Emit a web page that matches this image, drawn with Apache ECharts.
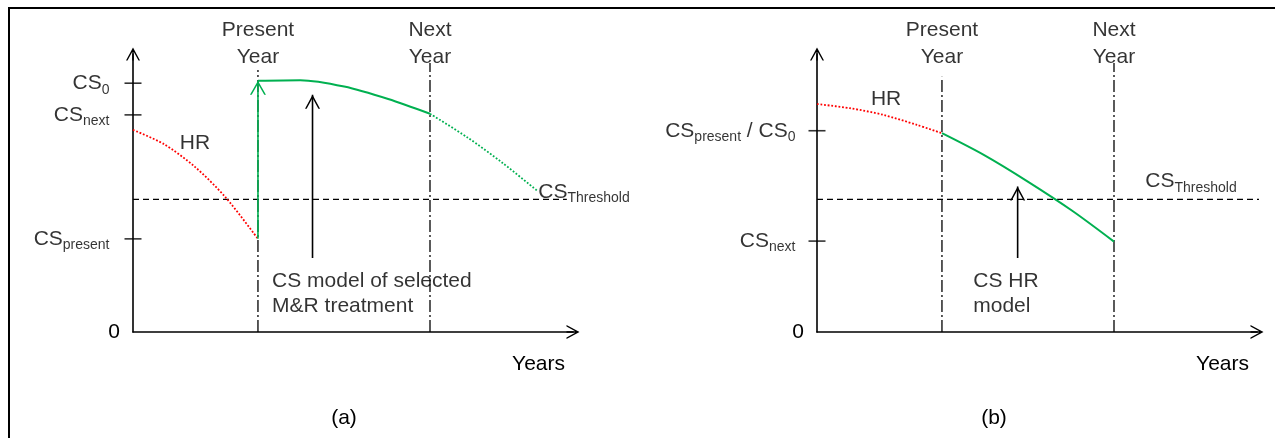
<!DOCTYPE html>
<html><head><meta charset="utf-8">
<script src="https://cdn.jsdelivr.net/npm/echarts@6/dist/echarts.min.js"></script>
<style>html,body{margin:0;padding:0;background:#fff}#c{width:1275px;height:438px}</style>
</head><body><div id="c"></div><script>
// Conceptual diagram: x = time (arbitrary units 0-100), y = condition score CS (arbitrary units 0-100)
const markerYears = [28.4, 67.5];              // Present Year, Next Year
const markerNames = ['Present\nYear', 'Next\nYear'];
const markerTopA = [94.2, 96.8];
const markerTopB = [91.8, 96.8];
const csThreshold = 47.7;
const thresholdEnd = [98.6, 102.5];

const tickValsA = [89.5, 78.1, 33.5];
const tickLabelsA = ['{m|CS}{s|0}', '{m|CS}{s|next}', '{m|CS}{s|present}'];
const tickValsB = [72.4, 32.7];
const tickLabelsB = ['{m|CS}{s|present}{m| / CS}{s|0}', '{m|CS}{s|next}'];

// Panel (a)
const hrAx = [0, 7, 14, 21, 28.4];
const hrAy = [72.7, 67.6, 59.5, 48.5, 33.5];
const jumpAy = [33.5, 90.4];
const treatAx = [28.4, 38, 48, 58, 67.5];
const treatAy = [90.4, 90.6, 88.3, 83.8, 78.5];
const forecastAx = [67.5, 76, 84, 92.1];
const forecastAy = [78.5, 70.0, 60.8, 50.5];
const pointerAx = 40.8;
const pointerAy = [26.6, 85.3];

// Panel (b)
const hrBx = [0, 7.5, 15.1, 22.7, 28.4];
const hrBy = [82.0, 80.5, 78.1, 74.5, 71.5];
const modelBx = [28.4, 38, 48, 58, 67.5];
const modelBy = [71.5, 63.6, 54.0, 43.6, 32.5];
const pointerBx = 45.6;
const pointerBy = [26.6, 52.3];

// Annotation texts and their anchors (data units)
const annotTextA = ['HR', 'CS model of selected\nM&R treatment', '{m|CS}{s|Threshold}'];
const annotAnchorA = [[14.1, 68.0], [31.5, 13.6], [92.0, 50.4]];
const annotTextB = ['HR', 'CS HR\nmodel', '{m|CS}{s|Threshold}'];
const annotAnchorB = [[15.7, 83.7], [35.4, 13.6], [74.5, 54.1]];
const headerY = 103.7;

const FONT = '"Liberation Sans", Arial, sans-serif';
const BLACK = '#000';
const GREEN = '#00B050';
const RED = '#FF0000';
const CHEV = 'path://M7,0L14,13L12.5,13L7,2.9L1.5,13L0,13Z';
const AXARROW = 'path://M7,0L14,13L12.5,13L7,2.9L1.5,13L0,13Z M6.3,1L7.7,1L7.7,13L6.3,13Z';
const rich = {
  m: { fontSize: 21, lineHeight: 24, color: BLACK, fontFamily: FONT },
  s: { fontSize: 14, lineHeight: 14, padding: [13, 0, 0, 0], color: BLACK, fontFamily: FONT }
};
const zip = (xs, ys) => xs.map((x, i) => [x, ys[i]]);

function line(gi, data, color, type, width, extra) {
  return Object.assign({
    type: 'line', xAxisIndex: gi, yAxisIndex: gi, data, symbol: 'none', silent: true,
    animation: false, lineStyle: { color, type, width }, z: 3
  }, extra || {});
}
const SMOOTH = { smooth: 0.3 };
function arrow(gi, pts, color, size) {
  return {
    type: 'line', xAxisIndex: gi, yAxisIndex: gi, silent: true, animation: false, z: 4,
    symbol: CHEV, symbolSize: size, symbolOffset: [0, '50%'], showSymbol: true,
    itemStyle: { color }, lineStyle: { color, width: 1.6 },
    data: pts.map((p, i) => i === pts.length - 1 ? { value: p } : { value: p, symbol: 'none' })
  };
}
function ticks(gi, vals, labels, dist) {
  return {
    type: 'scatter', xAxisIndex: gi, yAxisIndex: gi, silent: true, animation: false, clip: false,
    symbol: 'rect', symbolSize: [17, 1.6], itemStyle: { color: BLACK },
    data: vals.map((v, i) => ({ value: [0, v], label: { formatter: labels[i] } })),
    label: { show: true, position: 'left', distance: dist, rich }
  };
}
function annots(gi, texts, anchors) {
  const data = texts.map((t, i) => ({
    value: anchors[i],
    label: i === 1
      ? { formatter: t, position: 'right', distance: 0, align: 'left', lineHeight: 25 }
      : i === 0
        ? { formatter: t, position: 'inside', align: 'center' }
        : { formatter: t, position: 'right', distance: 0, rich }
  }));
  markerYears.forEach((x, i) => data.push({
    value: [x, headerY],
    label: { formatter: markerNames[i], position: 'inside', align: 'center', lineHeight: 27 }
  }));
  return {
    type: 'scatter', xAxisIndex: gi, yAxisIndex: gi, silent: true, animation: false, clip: false,
    symbolSize: 1, itemStyle: { color: 'rgba(0,0,0,0)' }, data,
    label: { show: true, color: BLACK, fontSize: 21, fontFamily: FONT }
  };
}
function markers(gi, tops) {
  return markerYears.map((x, i) => line(gi, [[x, 0], [x, tops[i]]], BLACK, [12, 3, 2, 3], 1.3, { z: 2 }));
}
function thresh(gi) {
  return line(gi, [[0, csThreshold], [thresholdEnd[gi], csThreshold]], BLACK, [6, 4], 1.3, { z: 2, clip: false });
}

const axisBase = {
  type: 'value', min: 0, max: 100,
  axisLine: { show: true, onZero: false, symbol: ['none', AXARROW], symbolSize: [14, 13], lineStyle: { color: BLACK, width: 1.6 } },
  axisTick: { show: false }, splitLine: { show: false }
};
const xAxis = [0, 1].map(gi => Object.assign({}, axisBase, {
  gridIndex: gi, axisLabel: { show: false },
  name: 'Years', nameLocation: 'end', nameGap: -8,
  nameTextStyle: { color: BLACK, fontSize: 21, fontFamily: FONT, align: 'right', verticalAlign: 'top', lineHeight: 21, padding: [22, 0, 0, 0] }
}));
const yAxis = [0, 1].map(gi => Object.assign({}, axisBase, {
  gridIndex: gi, interval: 100,
  axisLabel: { show: true, margin: 13, color: BLACK, fontSize: 21, fontFamily: FONT, formatter: v => v === 0 ? '0' : '' }
}));

const series = [
  thresh(0), ...markers(0, markerTopA),
  line(0, zip(hrAx, hrAy), RED, [1.8, 1.8], 1.8, SMOOTH),
  arrow(0, [[markerYears[0], jumpAy[0]], [markerYears[0], jumpAy[1]]], GREEN, [16, 14]),
  line(0, zip(treatAx, treatAy), GREEN, 'solid', 2, SMOOTH),
  line(0, zip(forecastAx, forecastAy), GREEN, [1.8, 1.8], 1.8, SMOOTH),
  arrow(0, [[pointerAx, pointerAy[0]], [pointerAx, pointerAy[1]]], BLACK, [15, 14]),
  ticks(0, tickValsA, tickLabelsA, 15),
  annots(0, annotTextA, annotAnchorA),

  thresh(1), ...markers(1, markerTopB),
  line(1, zip(hrBx, hrBy), RED, [1.8, 1.8], 1.8, SMOOTH),
  line(1, zip(modelBx, modelBy), GREEN, 'solid', 2, SMOOTH),
  arrow(1, [[pointerBx, pointerBy[0]], [pointerBx, pointerBy[1]]], BLACK, [15, 14]),
  ticks(1, tickValsB, tickLabelsB, 13),
  annots(1, annotTextB, annotAnchorB)
];

const chart = echarts.init(document.getElementById('c'), null, { renderer: 'canvas' });
chart.setOption({
  backgroundColor: '#fff',
  animation: false,
  textStyle: { fontFamily: FONT },
  title: [
    { text: '(a)', left: 344, top: 408, textAlign: 'center', padding: 0, textStyle: { fontSize: 21, fontWeight: 'normal', color: BLACK, fontFamily: FONT } },
    { text: '(b)', left: 994, top: 408, textAlign: 'center', padding: 0, textStyle: { fontSize: 21, fontWeight: 'normal', color: BLACK, fontFamily: FONT } }
  ],
  grid: [
    { left: 133, top: 54, width: 440, height: 278 },
    { left: 817, top: 54, width: 440, height: 278 }
  ],
  xAxis, yAxis, series,
  graphic: [
    { type: 'line', shape: { x1: 8, y1: 8, x2: 1275, y2: 8 }, style: { stroke: '#000', lineWidth: 2 }, silent: true },
    { type: 'line', shape: { x1: 9, y1: 7, x2: 9, y2: 438 }, style: { stroke: '#000', lineWidth: 2 }, silent: true }
  ]
});
</script></body></html>
